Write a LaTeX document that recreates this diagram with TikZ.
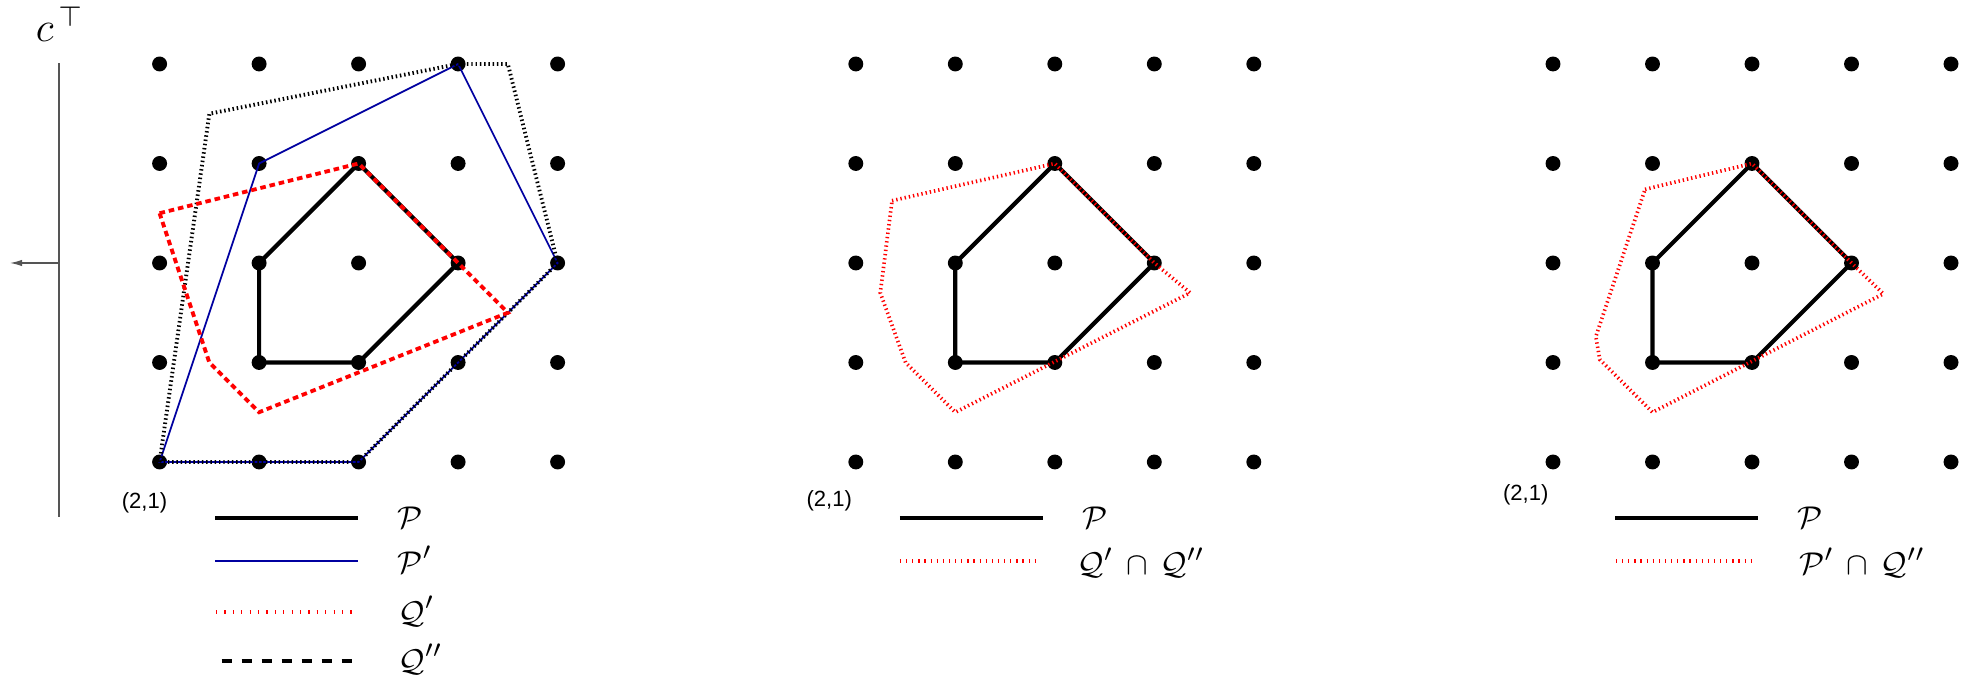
\documentclass[tikz,border=0pt]{standalone}
\usepackage{fontspec}
\newfontfamily\lsans{Liberation Sans}
\usetikzlibrary{arrows.meta}
\definecolor{pblue}{RGB}{0,0,160}
\definecolor{qred}{RGB}{255,0,0}
\definecolor{axgray}{RGB}{85,85,85}
\tikzset{
  latdot/.style={circle,fill=black,inner sep=0pt,minimum size=0.15cm},
  polyP/.style={draw=black,line width=1.2pt,line join=round},
  polyPp/.style={draw=pblue,line width=0.5pt},
  polyQp/.style={draw=qred,line width=1.1pt,dash pattern=on 1.6pt off 1.1pt},
  polyQpp/.style={draw=black,line width=1.1pt,dash pattern=on 0.42pt off 0.8pt},
  polyI/.style={draw=qred,line width=1.05pt,dash pattern=on 0.38pt off 0.85pt},
  legP/.style={draw=black,line width=1.15pt},
  legPp/.style={draw=pblue,line width=0.5pt},
  legQp/.style={draw=qred,line width=1.1pt,dash pattern=on 0.35pt off 2.05pt},
  legQpp/.style={draw=black,line width=1.15pt,dash pattern=on 2.86pt off 2.86pt},
  legI/.style={draw=qred,line width=1.1pt,dash pattern=on 0.35pt off 1.4pt},
  axisline/.style={draw=axgray,line width=0.45pt},
  ptlbl/.style={font=\lsans\fontsize{6.3}{7}\selectfont,inner sep=0pt},
  leglbl/.style={font=\fontsize{9.5}{11}\selectfont,anchor=west,inner sep=0pt},
}
\begin{document}
\begin{tikzpicture}
\useasboundingbox (0,0) rectangle (19.809,6.774);

% objective direction
\node (ctop) at (0.60,6.53) {\fontsize{11.5}{13}\selectfont$c^{\,\top}$};
\coordinate (axtop) at (0.593,6.138);
\coordinate (axbot) at (0.593,1.578);
\coordinate (axmid) at (0.593,4.131);
\coordinate (axtip) at (0.097,4.131);
\draw[axisline] (axtop) -- (axbot);
\draw[axisline,-{Latex[length=1.25mm,width=0.65mm]}] (axmid) -- (axtip);

% ---------------- panel 1 ----------------
\begin{scope}[shift={(1.604,2.131)}]
  \foreach \i in {0,...,4}{\foreach \j in {0,...,4}{
    \node[latdot] (a-\i-\j) at (\i,\j) {};}}
  \draw[polyP] (a-1-1.center) -- (a-1-2.center) -- (a-2-3.center) -- (a-3-2.center) -- (a-2-1.center) -- cycle;
  \draw[polyPp] (a-0-0.center) -- (a-1-3.center) -- (a-3-4.center) -- (a-4-2.center) -- (a-2-0.center) -- cycle;
  \draw[polyQpp] (0,0) -- (0.5,3.5) -- (3,4) -- (3.5,4) -- (4,2) -- (2,0) -- cycle;
  \draw[polyQp] (0,2.5) -- (2,3) -- (3.5,1.5) -- (1,0.5) -- (0.5,1) -- cycle;
\end{scope}
\node[ptlbl] (a-lbl) at (1.452,1.724) {(2,1)};
\draw[legP] (2.161,1.571) -- (3.598,1.571);
\draw[legPp] (2.161,1.136) -- (3.598,1.136);
\draw[legQp] (2.171,0.626) -- (3.588,0.626);
\draw[legQpp] (2.228,0.131) -- (3.533,0.131);
\node[leglbl] (a-l1) at (3.987,1.573) {$\mathcal{P}$};
\node[leglbl] (a-l2) at (3.987,1.150) {$\mathcal{P}'$};
\node[leglbl] (a-l3) at (3.997,0.630) {$\mathcal{Q}'$};
\node[leglbl] (a-l4) at (3.997,0.150) {$\mathcal{Q}''$};

% ---------------- panel 2 ----------------
\begin{scope}[shift={(8.601,2.131)}]
  \foreach \i in {0,...,4}{\foreach \j in {0,...,4}{
    \node[latdot] (b-\i-\j) at (\i,\j) {};}}
  \draw[polyP] (b-1-1.center) -- (b-1-2.center) -- (b-2-3.center) -- (b-3-2.center) -- (b-2-1.center) -- cycle;
  \draw[polyI] (0.364,2.626) -- (2,3) -- (3,2) -- (3.36,1.70) -- (1,0.5) -- (0.5,1.0) -- (0.246,1.70) -- cycle;
\end{scope}
\node[ptlbl] (b-lbl) at (8.334,1.739) {(2,1)};
\draw[legP] (9.045,1.571) -- (10.486,1.571);
\draw[legI] (9.045,1.136) -- (10.452,1.136);
\node[leglbl] (b-l1) at (10.871,1.573) {$\mathcal{P}$};
\node[leglbl] (b-l2) at (10.821,1.120) {$\mathcal{Q}'\,\cap\,\mathcal{Q}''$};

% ---------------- panel 3 ----------------
\begin{scope}[shift={(15.608,2.131)}]
  \foreach \i in {0,...,4}{\foreach \j in {0,...,4}{
    \node[latdot] (c-\i-\j) at (\i,\j) {};}}
  \draw[polyP] (c-1-1.center) -- (c-1-2.center) -- (c-2-3.center) -- (c-3-2.center) -- (c-2-1.center) -- cycle;
  \draw[polyI] (0.925,2.74) -- (2,3) -- (3,2) -- (3.32,1.69) -- (1,0.5) -- (0.47,1.03) -- (0.43,1.26) -- cycle;
\end{scope}
\node[ptlbl] (c-lbl) at (15.334,1.804) {(2,1)};
\draw[legP] (16.231,1.571) -- (17.672,1.571);
\draw[legI] (16.241,1.136) -- (17.638,1.136);
\node[leglbl] (c-l1) at (18.057,1.573) {$\mathcal{P}$};
\node[leglbl] (c-l2) at (18.074,1.120) {$\mathcal{P}'\,\cap\,\mathcal{Q}''$};
\end{tikzpicture}
\end{document}
